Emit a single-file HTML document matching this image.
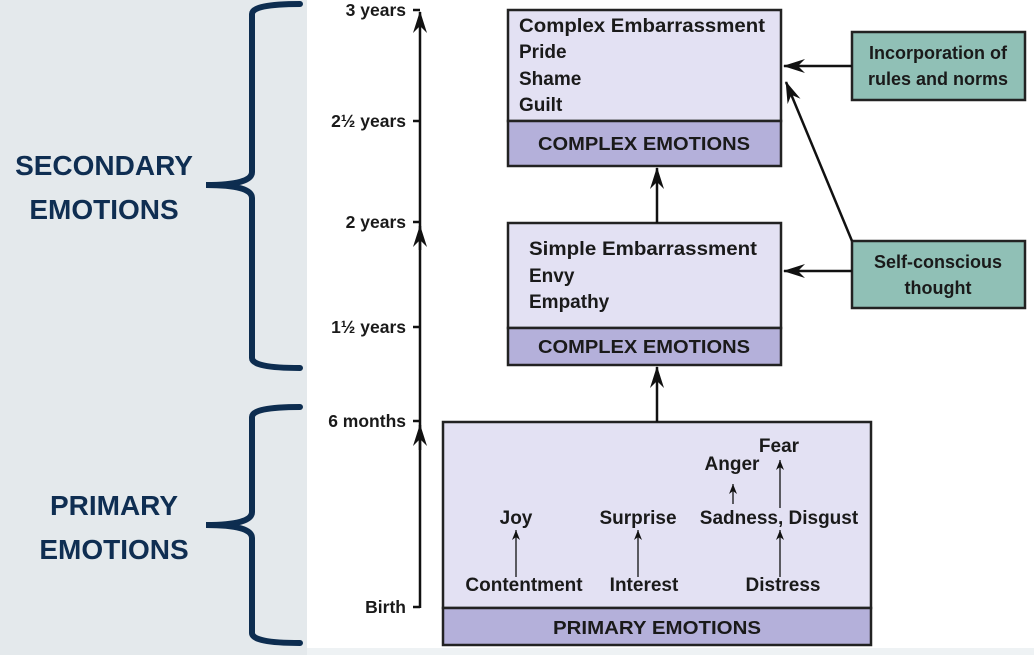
<!DOCTYPE html>
<html><head><meta charset="utf-8"><style>
body{margin:0;width:1034px;height:655px;overflow:hidden;background:#fff}
svg{display:block}
text{font-family:"Liberation Sans",sans-serif;font-weight:bold;fill:#1a1a1a}
</style></head><body>
<svg width="1034" height="655" viewBox="0 0 1034 655">
<defs>
<marker id="ah" viewBox="0 0 22 14" refX="21" refY="7" markerWidth="22" markerHeight="14" markerUnits="userSpaceOnUse" orient="auto"><path d="M0,0 L22,7 L0,14 L7,7Z" fill="#111"/></marker>
<marker id="as" viewBox="0 0 10 8" refX="10" refY="4" markerWidth="10" markerHeight="8" markerUnits="userSpaceOnUse" orient="auto"><path d="M0,0 L10,4 L0,8 L3,4Z" fill="#111"/></marker>
</defs>
<rect x="0" y="0" width="307" height="655" fill="#e4e9ec"/>
<rect x="307" y="648" width="727" height="7" fill="#eef2f4"/>
<g fill="none" stroke="#0d2d50" stroke-width="6" stroke-linecap="round">
<path d="M300,4 Q252,4 252,14 L252,172 Q252,185 206,185 Q252,185 252,198 L252,358 Q252,368 300,368"/>
<path d="M300,407 Q252,407 252,417 L252,512 Q252,525 206,525 Q252,525 252,538 L252,633 Q252,643 300,643"/>
</g>
<g font-size="28" text-anchor="middle">
<text x="104" y="175" style="fill:#0f2e52">SECONDARY</text>
<text x="104" y="219" style="fill:#0f2e52">EMOTIONS</text>
<text x="114" y="515" style="fill:#0f2e52">PRIMARY</text>
<text x="114" y="559" style="fill:#0f2e52">EMOTIONS</text>
</g>
<g stroke="#111" stroke-width="2.5">
<line x1="420" y1="608" x2="420" y2="12" marker-end="url(#ah)"/>
<line x1="420" y1="250" x2="420" y2="226" marker-end="url(#ah)"/>
<line x1="420" y1="450" x2="420" y2="425" marker-end="url(#ah)"/>
<line x1="413" y1="10" x2="420" y2="10"/>
<line x1="413" y1="121" x2="420" y2="121"/>
<line x1="413" y1="222" x2="420" y2="222"/>
<line x1="413" y1="327" x2="420" y2="327"/>
<line x1="413" y1="421" x2="420" y2="421"/>
<line x1="413" y1="607" x2="420" y2="607"/>
</g>
<g font-size="17.5" text-anchor="end">
<text x="406" y="16">3 years</text>
<text x="406" y="127">2½ years</text>
<text x="406" y="228">2 years</text>
<text x="406" y="333">1½ years</text>
<text x="406" y="427">6 months</text>
<text x="406" y="613">Birth</text>
</g>
<g stroke="#222" stroke-width="2.5">
<rect x="508" y="10" width="273" height="111" fill="#e3e1f3"/>
<rect x="508" y="121" width="273" height="45" fill="#b4b0da"/>
<rect x="508" y="223" width="273" height="105" fill="#e3e1f3"/>
<rect x="508" y="328" width="273" height="37" fill="#b4b0da"/>
<rect x="443" y="422" width="428" height="186" fill="#e3e1f3"/>
<rect x="443" y="608" width="428" height="37" fill="#b4b0da"/>
<rect x="852" y="32" width="173" height="68" fill="#90c0b6"/>
<rect x="852" y="241" width="173" height="67" fill="#90c0b6"/>
</g>
<g font-size="19">
<text x="519" y="32" textLength="246" lengthAdjust="spacingAndGlyphs">Complex Embarrassment</text>
<text x="519" y="58">Pride</text>
<text x="519" y="85">Shame</text>
<text x="519" y="111">Guilt</text>
<text x="529" y="255" textLength="228" lengthAdjust="spacingAndGlyphs">Simple Embarrassment</text>
<text x="529" y="282">Envy</text>
<text x="529" y="308">Empathy</text>
</g>
<g font-size="18" text-anchor="middle">
<text x="644" y="150" textLength="212" lengthAdjust="spacingAndGlyphs">COMPLEX EMOTIONS</text>
<text x="644" y="353" textLength="212" lengthAdjust="spacingAndGlyphs">COMPLEX EMOTIONS</text>
<text x="657" y="634" textLength="208" lengthAdjust="spacingAndGlyphs">PRIMARY EMOTIONS</text>
<text x="938" y="59">Incorporation of</text>
<text x="938" y="85">rules and norms</text>
<text x="938" y="268">Self-conscious</text>
<text x="938" y="294">thought</text>
</g>
<g font-size="19" text-anchor="middle">
<text x="516" y="524">Joy</text>
<text x="524" y="591">Contentment</text>
<text x="638" y="524">Surprise</text>
<text x="644" y="591">Interest</text>
<text x="779" y="524">Sadness, Disgust</text>
<text x="783" y="591">Distress</text>
<text x="732" y="470">Anger</text>
<text x="779" y="452">Fear</text>
</g>
<g stroke="#111" stroke-width="2.5">
<line x1="657" y1="223" x2="657" y2="168" marker-end="url(#ah)"/>
<line x1="657" y1="422" x2="657" y2="367" marker-end="url(#ah)"/>
<line x1="852" y1="66" x2="784" y2="66" marker-end="url(#ah)"/>
<line x1="852" y1="271" x2="784" y2="271" marker-end="url(#ah)"/>
<line x1="852" y1="241" x2="786" y2="82" marker-end="url(#ah)"/>
</g>
<g stroke="#111" stroke-width="1.3">
<line x1="516" y1="577" x2="516" y2="530" marker-end="url(#as)"/>
<line x1="638" y1="577" x2="638" y2="530" marker-end="url(#as)"/>
<line x1="780" y1="577" x2="780" y2="530" marker-end="url(#as)"/>
<line x1="780" y1="508" x2="780" y2="460" marker-end="url(#as)"/>
<line x1="733" y1="504" x2="733" y2="484" marker-end="url(#as)"/>
</g>
</svg>
</body></html>
